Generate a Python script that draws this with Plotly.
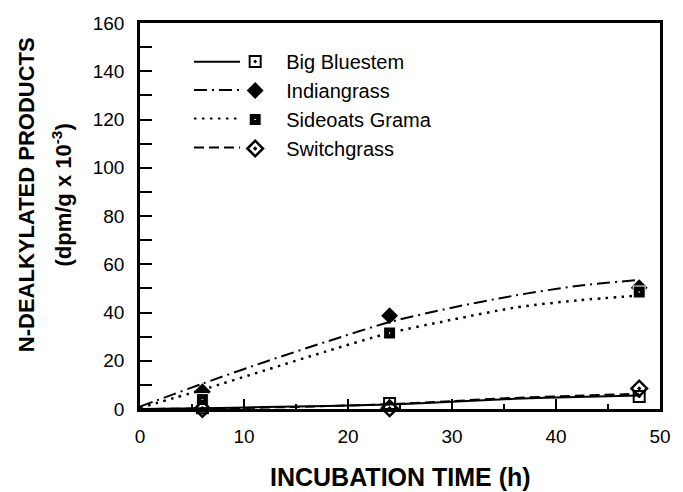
import plotly.graph_objects as go

# ---------------- data ----------------
series_names = ["Big Bluestem", "Indiangrass", "Sideoats Grama", "Switchgrass"]

obs_time = [6, 24, 48]
big_bluestem_obs = [0.5, 2.3, 5.2]
indiangrass_obs = [7.2, 38.7, 50.3]
sideoats_obs = [3.9, 31.5, 48.5]
switchgrass_obs = [0.0, 0.3, 8.5]

curve_time = [0, 6, 12, 18, 24, 30, 36, 42, 48]
big_bluestem_curve = [0.0, 0.3, 0.8, 1.2, 1.9, 3.0, 4.2, 5.0, 5.6]
indiangrass_curve = [1.0, 10.5, 19.5, 28.0, 36.0, 42.0, 47.0, 51.0, 53.5]
sideoats_curve = [0.5, 8.0, 16.0, 24.0, 31.5, 37.0, 42.0, 45.0, 47.0]
switchgrass_curve = [0.0, 0.2, 0.6, 1.2, 2.0, 3.3, 4.6, 5.5, 6.3]

x_tick_vals = [0, 10, 20, 30, 40, 50]
y_tick_vals = [0, 20, 40, 60, 80, 100, 120, 140, 160]

# ---------------- styles ----------------
FONT = "Liberation Sans, Arial, Helvetica, sans-serif"
W, H = 683, 492
ML, MR, MT, MB = 140, 13, 23, 83
PW, PH = W - ML - MR, H - MT - MB

dashes = ["solid", "13px,5px,2px,5px", "2.5px,5.5px", "10px,5px"]
markers = [
    dict(symbol="square-open-dot", size=11, color="black", line=dict(color="black", width=2)),
    dict(symbol="diamond", size=13, color="black", line=dict(color="black", width=0)),
    dict(symbol="square-dot", size=12, color="black", line=dict(color="white", width=1)),
    dict(symbol="diamond-open-dot", size=12, color="black", line=dict(color="black", width=2.5)),
]
curves = [big_bluestem_curve, indiangrass_curve, sideoats_curve, switchgrass_curve]
obs = [big_bluestem_obs, indiangrass_obs, sideoats_obs, switchgrass_obs]

fig = go.Figure()
for i, name in enumerate(series_names):
    fig.add_trace(go.Scatter(
        x=curve_time, y=curves[i], mode="lines",
        line=dict(color="black", width=2 if i != 2 else 2.5, dash=dashes[i], shape="spline", smoothing=0.8),
        showlegend=False, hoverinfo="skip", cliponaxis=False,
    ))
for i, name in enumerate(series_names):
    fig.add_trace(go.Scatter(
        x=obs_time, y=obs[i], mode="markers", marker=markers[i],
        name="\u00a0\u00a0" + name, legendgroup=name, cliponaxis=False,
    ))

# legend line samples (layout decoration beside legend markers)
row_px = [61.7, 90.0, 118.5, 147.5]
for i, ypx in enumerate(row_px):
    yp = (MT + PH - ypx) / PH
    fig.add_shape(type="line", xref="paper", yref="paper",
                  x0=(195 - ML) / PW, x1=(242 - ML) / PW, y0=yp, y1=yp,
                  line=dict(color="black", width=2, dash=dashes[i]))

axis_common = dict(
    showline=True, linecolor="black", linewidth=2.5, mirror=True,
    ticks="inside", tickcolor="black", tickwidth=2,
    showgrid=False, zeroline=False,
    tickfont=dict(family=FONT, size=19, color="black"),
)
fig.update_xaxes(range=[0, 50], tickvals=x_tick_vals, ticklen=10,
                 minor=dict(ticks="inside", dtick=5, ticklen=5, tickwidth=2, tickcolor="black", showgrid=False),
                 ticklabelstandoff=8, **axis_common)
fig.update_yaxes(range=[0, 160], tickvals=y_tick_vals, ticklen=12,
                 minor=dict(ticks="inside", dtick=10, ticklen=12, tickwidth=2, tickcolor="black", showgrid=False),
                 ticklabelstandoff=9, **axis_common)

fig.add_annotation(text="N-DEALKYLATED PRODUCTS", xref="paper", yref="paper",
                   x=(24 - ML) / PW, y=(MT + PH - 195) / PH, textangle=-90, showarrow=False,
                   xanchor="center", yanchor="middle",
                   font=dict(family=FONT, size=22, color="black", weight="bold"))
fig.add_annotation(text="(dpm/g x 10<sup>-3</sup>)", xref="paper", yref="paper",
                   x=(60 - ML) / PW, y=(MT + PH - 195) / PH, textangle=-90, showarrow=False,
                   xanchor="center", yanchor="middle",
                   font=dict(family=FONT, size=22, color="black", weight="bold"))
fig.add_annotation(text="INCUBATION TIME (h)", xref="paper", yref="paper",
                   x=0.5, y=(MT + PH - 477) / PH, showarrow=False,
                   xanchor="center", yanchor="middle",
                   font=dict(family=FONT, size=25, color="black", weight="bold"))

fig.update_layout(
    width=W, height=H,
    margin=dict(l=ML, r=MR, t=MT, b=MB),
    paper_bgcolor="white", plot_bgcolor="white",
    font=dict(family=FONT, color="black"),
    showlegend=True,
    legend=dict(x=(257 - 20 - ML) / PW, y=(MT + PH - 42) / PH, xanchor="left", yanchor="top",
                bgcolor="rgba(0,0,0,0)", borderwidth=0, tracegroupgap=0,
                font=dict(family=FONT, size=20, color="black"), itemwidth=30),
)

fig.write_html("out.html", config={"displayModeBar": False},
               post_script="document.body.style.margin='0';document.body.style.padding='0';")
